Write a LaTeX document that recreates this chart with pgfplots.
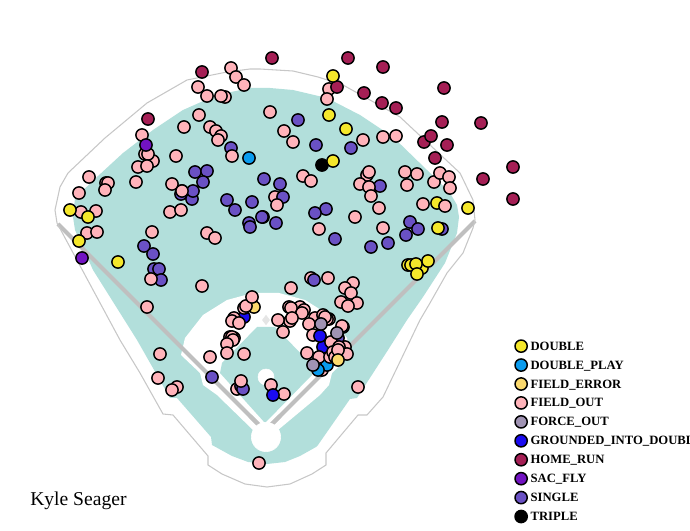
\documentclass[border=0pt]{standalone}
\usepackage{pgfplots}
\pgfplotsset{compat=1.18}
\usepackage{fontspec}
\setmainfont{Liberation Serif}
\definecolor{cD}{HTML}{F5E72B}
\definecolor{cP}{HTML}{0A9BEE}
\definecolor{cE}{HTML}{FBD96D}
\definecolor{cO}{HTML}{FFB3BA}
\definecolor{cF}{HTML}{A093B3}
\definecolor{cG}{HTML}{1A0BF0}
\definecolor{cH}{HTML}{A51F55}
\definecolor{cS}{HTML}{7213C2}
\definecolor{cI}{HTML}{6A51C4}
\definecolor{cT}{HTML}{000000}
\definecolor{teal1}{HTML}{B2DFDB}
\pgfplotsset{
 pt/.style={only marks,mark=*,mark size=4.6pt,forget plot,mark options={draw=black,line width=1.1pt,fill=#1}},
 lg/.style={only marks,mark=*,mark size=4.6pt,mark options={draw=black,line width=1.1pt,fill=#1}},
}
\begin{document}
\begin{tikzpicture}
\clip (0,0) rectangle (517.5pt,398.25pt);
\begin{axis}[at={(0,0)},anchor=south west,scale only axis,width=517.5pt,height=398.25pt,
 xmin=0,xmax=690,ymin=0,ymax=531,y dir=reverse,hide axis,clip=true,
 legend cell align=left,
 legend image code/.code={\draw[#1] plot coordinates {(0pt,3pt)};},
 legend style={overlay,at={(axis cs:515,340)},anchor=north west,draw=none,fill=none,inner sep=0pt,outer sep=0pt,
   font=\fontsize{9.5pt}{10pt}\selectfont\bfseries,
   nodes={inner sep=0pt,text height=6.5pt,text depth=0pt,anchor=base west},
   row sep=5pt,/tikz/column sep=2.5pt},
]
% field
\addplot[fill=teal1,draw=none,forget plot] coordinates {(75,198)(98,176)(123,153)(153,130)(183,110)(217,95)(250,88)(270,88)(293,90)(327,98)(360,115)(393,137)(427,170)(450,193)(457,205)(459,217)(457,233)(445,263)(423,297)(407,320)(388,350)(357,398)(350,399)(318,445)(316,447)(300,456)(285,462)(267,464)(248,462)(232,456)(212,445)(211,437)(177,398)(170,398)(137,340)(93,270)(75,230)(73,217)} -- cycle;
\addplot[fill=white,draw=none,forget plot] coordinates {(181,355)(185,338)(203,315)(227,300)(253,293)(279,293)(305,300)(329,315)(347,338)(351,355)(332,373)(329,385)(320,395)(278,430)(253,430)(217,395)(203,385)(200,373)} -- cycle;
\addplot[fill=teal1,draw=none,forget plot] coordinates {(257,327)(275,327)(310,363)(312,375)(265,423)(220,373)(222,363)} -- cycle;
\addplot[only marks,mark=*,mark size=6pt,mark options={draw=white,fill=white},forget plot] coordinates {(266,377)};
\addplot[color=gray!45,line width=1.6pt,forget plot] coordinates {(262,377)(270,377)};
\addplot[only marks,mark=diamond*,mark size=3.5pt,mark options={draw=gray!20,fill=gray!20},forget plot] coordinates {(266,320)};
\addplot[color=black!25,line width=3pt,line join=miter,forget plot] coordinates {(58,224)(265,431)(475,221)};
\addplot[only marks,mark=*,mark size=11pt,mark options={draw=white,fill=white},forget plot] coordinates {(266,437)};
\addplot[color=black!25,line width=3pt,line join=miter,forget plot] coordinates {(250,416)(265,431)(280,416)};
\addplot[color=black!22,line width=.8pt,forget plot] coordinates {(57,223)(120,340)(140,373)(163,414)(173,415)(208,456)(208,465)(222,474)(245,484)(267,487)(290,484)(312,474)(326,465)(326,453)(358,415)(367,415)(383,397)(420,320)(430,303)(447,273)(463,253)(473,228)(475,220)(473,200)(460,173)(430,145)(400,117)(370,100)(343,85)(318,77)(293,71)(260,69)(250,69)(227,72)(187,80)(147,103)(105,138)(68,173)(60,187)(55,210)} -- cycle;
% points
\addplot[pt=cT] coordinates {(322,165)};
\addplot[pt=cO] coordinates {(275,197)(311,278)(237,389)(145,154)(182,191)(225,97)(106,183)(153,161)(367,175)(289,307)(300,307)(315,318)(323,315)(329,319)(230,337)(234,338)(290,321)(322,370)};
\addplot[pt=cI] coordinates {(231,148)(195,172)(207,171)(203,182)(181,194)(192,199)(193,191)(227,200)(235,210)(252,202)(264,179)(298,120)(316,145)(351,148)(380,186)(280,184)(283,197)(326,209)(315,213)(410,222)(418,229)(263,217)(276,223)(262,217)(249,223)(250,227)(144,246)(153,254)(154,269)(159,269)(161,280)(335,239)(371,247)(388,243)(406,235)(442,229)(314,280)(212,377)(241,386)(243,389)(338,338)};
\addplot[pt=cE] coordinates {(254,307)};
\addplot[pt=cG] coordinates {(244,317)(323,347)};
\addplot[pt=cP] coordinates {(249,158)(327,365)};
\addplot[pt=cO] coordinates {(231,68)(236,77)(244,85)(198,87)(207,96)(221,96)(199,115)(184,127)(210,127)(216,131)(221,136)(218,140)(270,112)(142,135)(148,154)(138,167)(147,166)(176,156)(232,156)(136,182)(89,177)(108,183)(105,190)(79,193)(172,184)(182,191)(170,212)(181,210)(81,212)(96,211)(152,232)(207,233)(215,238)(87,233)(97,232)(151,279)(202,286)(147,307)(329,89)(327,99)(284,131)(293,142)(363,140)(383,137)(396,136)(303,176)(311,181)(369,172)(360,184)(369,187)(371,196)(379,208)(405,172)(417,174)(407,185)(434,182)(440,173)(449,177)(450,188)(423,204)(355,217)(277,205)(319,229)(383,228)(328,278)(291,288)(353,283)(345,288)(351,293)(341,302)(357,303)(348,306)(244,308)(246,306)(252,297)(234,318)(232,321)(239,323)(232,337)(233,340)(227,344)(227,353)(244,354)(210,357)(241,381)(271,385)(284,394)(160,354)(158,378)(177,387)(172,390)(358,387)(259,463)(291,308)(304,310)(302,313)(278,320)(292,318)(283,332)(309,324)(327,319)(325,317)(343,327)(342,326)(313,335)(331,342)(345,347)(339,347)(347,354)(307,353)(319,357)(330,357)(333,352)(335,357)(338,350)};
\addplot[pt=cP] coordinates {(318,370)};
\addplot[pt=cG] coordinates {(320,336)(273,395)};
\addplot[pt=cF] coordinates {(321,324)(337,333)(313,365)};
\addplot[pt=cS] coordinates {(146,145)(82,258)};
\addplot[pt=cH] coordinates {(202,72)(148,119)(272,58)(348,58)(383,67)(337,87)(364,93)(382,103)(396,108)(444,88)(442,122)(481,123)(424,142)(431,136)(447,145)(435,158)(513,167)(483,179)(513,199)};
\addplot[pt=cD] coordinates {(333,76)(329,115)(346,129)(333,161)(437,203)(468,208)(70,210)(88,217)(79,241)(118,262)(438,228)(408,265)(411,265)(422,268)(428,261)(416,264)(417,274)};
\addplot[pt=cE] coordinates {(338,360)};
\addplot[pt=cO] coordinates {(445,206)};
% legend
\addlegendimage{lg=cD}\addlegendentry{DOUBLE}
\addlegendimage{lg=cP}\addlegendentry{DOUBLE\_PLAY}
\addlegendimage{lg=cE}\addlegendentry{FIELD\_ERROR}
\addlegendimage{lg=cO}\addlegendentry{FIELD\_OUT}
\addlegendimage{lg=cF}\addlegendentry{FORCE\_OUT}
\addlegendimage{lg=cG}\addlegendentry{GROUNDED\_INTO\_DOUBLE\_PLAY}
\addlegendimage{lg=cH}\addlegendentry{HOME\_RUN}
\addlegendimage{lg=cS}\addlegendentry{SAC\_FLY}
\addlegendimage{lg=cI}\addlegendentry{SINGLE}
\addlegendimage{lg=cT}\addlegendentry{TRIPLE}
\node[anchor=west,inner sep=0pt,font=\fontsize{14.7pt}{16pt}\selectfont] at (axis cs:30,501) {Kyle Seager};
\end{axis}
\end{tikzpicture}
\end{document}
